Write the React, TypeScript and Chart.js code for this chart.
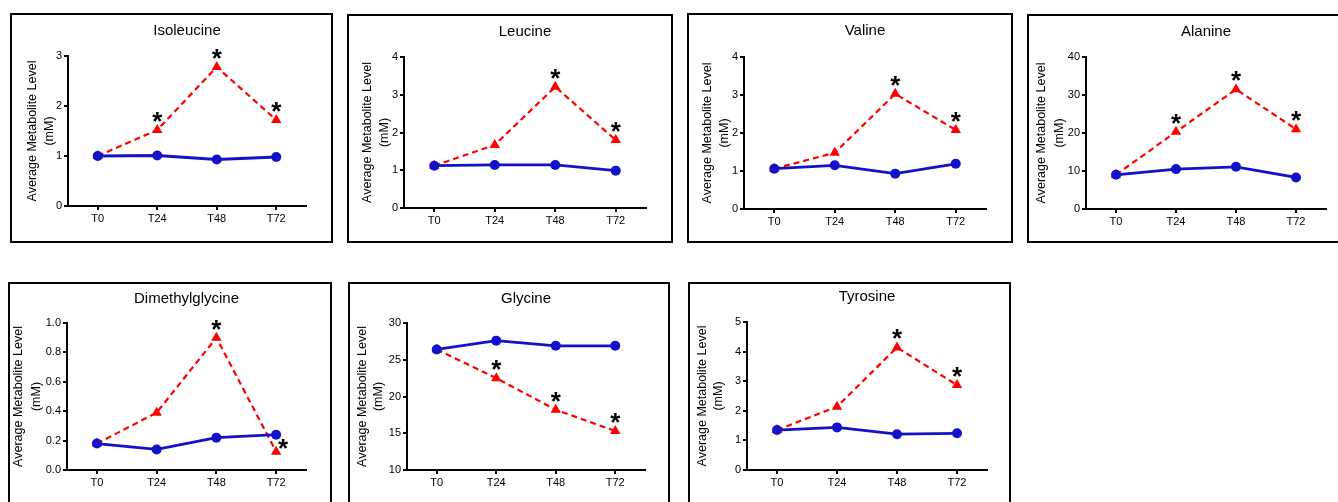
import React, { useEffect, useRef } from 'react';
import { Chart, registerables } from 'chart.js';

Chart.register(...registerables);

const FONT = '"Liberation Sans", Arial, Helvetica, sans-serif';

const timepoints = ['T0', 'T24', 'T48', 'T72'];

const isoleucineControl = [1.0, 1.01, 0.93, 0.98];
const isoleucineTreated = [1.0, 1.52, 2.78, 1.72];
const isoleucineStars = ['', 'above', 'above', 'above'];

const leucineControl = [1.12, 1.14, 1.14, 0.99];
const leucineTreated = [1.12, 1.67, 3.21, 1.8];
const leucineStars = ['', '', 'above', 'above'];

const valineControl = [1.06, 1.15, 0.93, 1.19];
const valineTreated = [1.06, 1.48, 3.03, 2.08];
const valineStars = ['', '', 'above', 'above'];

const alanineControl = [9.0, 10.5, 11.1, 8.3];
const alanineTreated = [9.0, 20.3, 31.5, 21.0];
const alanineStars = ['', 'above', 'above', 'above'];

const dmgControl = [0.18, 0.14, 0.22, 0.24];
const dmgTreated = [0.18, 0.39, 0.9, 0.125];
const dmgStars = ['', '', 'above', 'right'];

const glycineControl = [26.4, 27.6, 26.9, 26.9];
const glycineTreated = [26.4, 22.5, 18.2, 15.3];
const glycineStars = ['', 'above', 'above', 'above'];

const tyrosineControl = [1.35, 1.44, 1.21, 1.24];
const tyrosineTreated = [1.35, 2.14, 4.14, 2.87];
const tyrosineStars = ['', '', 'above', 'above'];

// y-axis ranges: [min, max, step, decimals]
const isoleucineAxis = [0, 3, 1, 0];
const leucineAxis = [0, 4, 1, 0];
const valineAxis = [0, 4, 1, 0];
const alanineAxis = [0, 40, 10, 0];
const dmgAxis = [0, 1, 0.2, 1];
const glycineAxis = [10, 30, 5, 0];
const tyrosineAxis = [0, 5, 1, 0];

const yTitleLines = ['Average Metabolite Level', '(mM)'];

const panels = [
  { name: 'Isoleucine', control: isoleucineControl, treated: isoleucineTreated, stars: isoleucineStars, axis: isoleucineAxis },
  { name: 'Leucine', control: leucineControl, treated: leucineTreated, stars: leucineStars, axis: leucineAxis },
  { name: 'Valine', control: valineControl, treated: valineTreated, stars: valineStars, axis: valineAxis },
  { name: 'Alanine', control: alanineControl, treated: alanineTreated, stars: alanineStars, axis: alanineAxis },
  { name: 'Dimethylglycine', control: dmgControl, treated: dmgTreated, stars: dmgStars, axis: dmgAxis },
  { name: 'Glycine', control: glycineControl, treated: glycineTreated, stars: glycineStars, axis: glycineAxis },
  { name: 'Tyrosine', control: tyrosineControl, treated: tyrosineTreated, stars: tyrosineStars, axis: tyrosineAxis },
];

// layout: box position/size and chart area inside the box
const layouts = [
  { x: 10, y: 13, w: 323, h: 230, area: [58, 43, 296, 193], titleY: 18, yt: [23, 40] },
  { x: 347, y: 14, w: 326, h: 229, area: [57, 43, 299, 194], titleY: 18, yt: [21, 38] },
  { x: 687, y: 13, w: 326, h: 230, area: [57, 44, 299, 196], titleY: 18, yt: [21, 38] },
  { x: 1027, y: 14, w: 322, h: 229, area: [59, 43, 299, 195], titleY: 18, yt: [15, 33] },
  { x: 8, y: 282, w: 324, h: 230, area: [59, 41, 298, 188], titleY: 17, yt: [11, 29] },
  { x: 348, y: 282, w: 322, h: 230, area: [59, 41, 297, 188], titleY: 17, yt: [15, 31] },
  { x: 688, y: 282, w: 323, h: 230, area: [59, 40, 299, 188], titleY: 15, yt: [15, 31] },
];

const BLUE = '#1212c8';
const RED = '#ff0000';

function Panel({ spec, lay }: { spec: any; lay: any }) {
  const ref = useRef<HTMLCanvasElement | null>(null);
  useEffect(() => {
    if (!ref.current) return;
    const [aL, aT, aR, aB] = lay.area;
    const [yMin, yMax, yStep, dec] = spec.axis;
    const decor = {
      id: 'decor',
      afterDraw(chart: any) {
        const ctx = chart.ctx;
        const { left, right, top, bottom } = chart.chartArea;
        ctx.save();
        ctx.strokeStyle = '#000';
        ctx.lineWidth = 2;
        ctx.strokeRect(1, 1, chart.width - 2, chart.height - 2);
        ctx.fillStyle = '#000';
        ctx.textAlign = 'center';
        ctx.textBaseline = 'middle';
        ctx.font = `15px ${FONT}`;
        ctx.fillText(spec.name, (left + right) / 2, lay.titleY);
        ctx.font = `12.5px ${FONT}`;
        const cy = (top + bottom) / 2;
        yTitleLines.forEach((t, i) => {
          ctx.save();
          ctx.translate(lay.yt[i], cy);
          ctx.rotate(-Math.PI / 2);
          ctx.fillText(t, 0, 0);
          ctx.restore();
        });
        const meta = chart.getDatasetMeta(1);
        ctx.font = `bold 26px ${FONT}`;
        ctx.textBaseline = 'alphabetic';
        spec.stars.forEach((s: string, i: number) => {
          if (!s) return;
          const pt = meta.data[i];
          let sx = pt.x;
          let sy = pt.y - 13;
          if (s === 'right') {
            sx = pt.x + 7;
            sy = pt.y - 8;
          }
          const m = ctx.measureText('*');
          const base = sy + (m.actualBoundingBoxAscent - m.actualBoundingBoxDescent) / 2;
          ctx.fillText('*', sx, base);
        });
        ctx.restore();
      },
    };
    const chart = new Chart(ref.current, {
      type: 'line',
      data: {
        labels: timepoints,
        datasets: [
          {
            data: spec.control,
            borderColor: BLUE,
            backgroundColor: BLUE,
            borderWidth: 2.8,
            pointStyle: 'circle',
            pointRadius: 5,
            pointBackgroundColor: BLUE,
            pointBorderColor: BLUE,
            pointBorderWidth: 0,
            tension: 0,
          },
          {
            data: spec.treated,
            borderColor: RED,
            backgroundColor: RED,
            borderWidth: 2.2,
            borderDash: [6, 4],
            pointStyle: 'triangle',
            pointRadius: 6,
            pointBackgroundColor: RED,
            pointBorderColor: RED,
            pointBorderWidth: 0,
            tension: 0,
          },
        ],
      },
      options: {
        responsive: false,
        animation: false,
        devicePixelRatio: 1,
        layout: { padding: { left: 0, top: aT, right: lay.w - aR, bottom: 0 } },
        plugins: { legend: { display: false }, tooltip: { enabled: false }, title: { display: false } },
        scales: {
          x: {
            type: 'category',
            offset: true,
            grid: { drawOnChartArea: false, drawTicks: true, tickLength: 4, color: '#000', lineWidth: 2 },
            border: { display: true, color: '#000', width: 2 },
            ticks: { color: '#000', font: { family: FONT, size: 11 }, padding: 2, maxRotation: 0 },
            afterFit: (scale: any) => {
              scale.height = lay.h - aB;
            },
          },
          y: {
            min: yMin,
            max: yMax,
            grid: { drawOnChartArea: false, drawTicks: true, tickLength: 4, color: '#000', lineWidth: 2 },
            border: { display: true, color: '#000', width: 2 },
            ticks: {
              stepSize: yStep,
              color: '#000',
              font: { family: FONT, size: 11 },
              padding: 2,
              callback: (v: any) => Number(v).toFixed(dec),
            },
            afterFit: (scale: any) => {
              scale.width = aL;
            },
          },
        },
      },
      plugins: [decor],
    } as any);
    return () => chart.destroy();
  }, [spec, lay]);
  return (
    <canvas
      ref={ref}
      width={lay.w}
      height={lay.h}
      style={{ position: 'absolute', left: lay.x, top: lay.y, width: lay.w, height: lay.h }}
    />
  );
}

export default function App() {
  return (
    <div
      style={{
        position: 'fixed',
        left: 0,
        top: 0,
        width: 1338,
        height: 502,
        background: '#fff',
        overflow: 'hidden',
      }}
    >
      {panels.map((p, i) => (
        <Panel key={p.name} spec={p} lay={layouts[i]} />
      ))}
    </div>
  );
}
